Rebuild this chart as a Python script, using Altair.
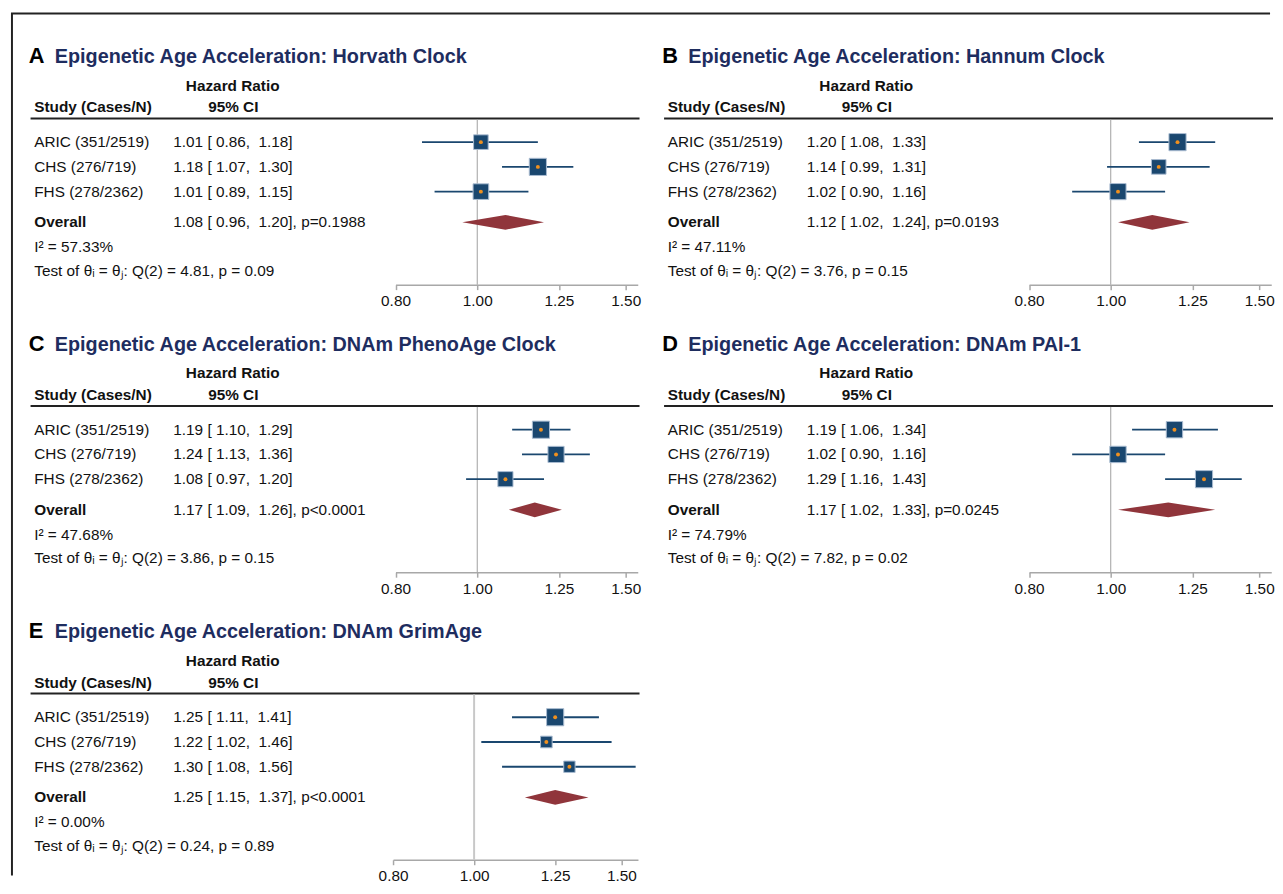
import altair as alt
import pandas as pd
import numpy as np

FONT = "Liberation Sans, Arial, Helvetica, sans-serif"
NAVY_TITLE = "#1e2d5f"
BOX = "#1a476f"
DOT = "#f0901e"
DIAMOND = "#90353b"

studies = ["ARIC (351/2519)", "CHS (276/719)", "FHS (278/2362)"]
letters = ["A", "B", "C", "D", "E"]
titles = [
    "Epigenetic Age Acceleration: Horvath Clock",
    "Epigenetic Age Acceleration: Hannum Clock",
    "Epigenetic Age Acceleration: DNAm PhenoAge Clock",
    "Epigenetic Age Acceleration: DNAm PAI-1",
    "Epigenetic Age Acceleration: DNAm GrimAge",
]
hr = [[1.01, 1.18, 1.01], [1.20, 1.14, 1.02], [1.19, 1.24, 1.08], [1.19, 1.02, 1.29], [1.25, 1.22, 1.30]]
lo = [[0.86, 1.07, 0.89], [1.08, 0.99, 0.90], [1.10, 1.13, 0.97], [1.06, 0.90, 1.16], [1.11, 1.02, 1.08]]
hi = [[1.18, 1.30, 1.15], [1.33, 1.31, 1.16], [1.29, 1.36, 1.20], [1.34, 1.16, 1.43], [1.41, 1.46, 1.56]]
weights = [[28.4, 39.1, 32.5], [38.3, 27.8, 33.9], [37.5, 33.2, 29.2], [32.3, 32.3, 35.5], [52.7, 24.2, 23.1]]
overall_hr = [1.08, 1.12, 1.17, 1.17, 1.25]
overall_lo = [0.96, 1.02, 1.09, 1.02, 1.15]
overall_hi = [1.20, 1.24, 1.26, 1.33, 1.37]
overall_p = ["p=0.1988", "p=0.0193", "p<0.0001", "p=0.0245", "p<0.0001"]
i2 = [57.33, 47.11, 47.68, 74.79, 0.00]
q_stat = [4.81, 3.76, 3.86, 7.82, 0.24]
q_p = [0.09, 0.15, 0.15, 0.02, 0.89]
tick_values = [0.80, 1.00, 1.25, 1.50]

W, H = 624, 260
FS = 15.5
NB = "\u00a0"
OVERALL_ROW = 4.24
DIAMOND_HALF = 0.3


def ci_text(h, l, u):
    return f"{h:.2f} [ {l:.2f},{NB} {u:.2f}]"


def panel(i):
    if i < 4:
        x0, k, dmax = 378.5, 370.0, 1.55
    else:
        x0, k, dmax = 376.0, 367.0, 1.57
    xs = alt.Scale(type="log", domain=[0.8, dmax],
                   range=[x0, x0 + k * float(np.log(dmax / 0.8))],
                   clamp=True, nice=False)
    ys = alt.Scale(domain=[1, 3], range=[116, 166], zero=False, nice=False)
    ax = alt.Axis(values=tick_values, format=".2f", title=None, grid=False,
                  labelFontSize=FS, labelFont=FONT, labelColor="#111",
                  domainColor="#a8a8a8", tickColor="#a8a8a8", domainWidth=1.5,
                  tickWidth=1.5, tickSize=5, labelPadding=4, labelFlush=False)
    Y = alt.Y("row:Q", scale=ys, axis=None)

    sdf = pd.DataFrame({
        "row": [1, 2, 3],
        "study": studies,
        "hr": hr[i], "lo": lo[i], "hi": hi[i], "w": weights[i],
        "label": [ci_text(h, l, u) for h, l, u in zip(hr[i], lo[i], hi[i])],
    })
    odf = pd.DataFrame({
        "row": [OVERALL_ROW],
        "name": ["Overall"],
        "label": [ci_text(overall_hr[i], overall_lo[i], overall_hi[i]) + ", " + overall_p[i]],
    })
    ddf = pd.DataFrame({
        "x": [overall_lo[i], overall_hr[i], overall_hi[i]],
        "row": [OVERALL_ROW, OVERALL_ROW - DIAMOND_HALF, OVERALL_ROW],
        "row2": [OVERALL_ROW, OVERALL_ROW + DIAMOND_HALF, OVERALL_ROW],
    })
    info = pd.DataFrame({
        "letter": [letters[i]],
        "title": [titles[i]],
        "hrh": ["Hazard Ratio"],
        "cih": ["95% CI"],
        "sth": ["Study (Cases/N)"],
        "i2": [f"I² = {i2[i]:.2f}%"],
        "test": [f"Test of θᵢ = θⱼ: Q(2) = {q_stat[i]:.2f}, p = {q_p[i]:.2f}"],
        "ref": [1.0],
    })

    base_info = alt.Chart(info)
    layers = []
    if i == 0:
        layers.append(base_info.mark_rule(color="#222", strokeWidth=2).encode(
            x=alt.value(-10), x2=alt.value(1262), y=alt.value(-14)))
        layers.append(base_info.mark_rule(color="#222", strokeWidth=2).encode(
            x=alt.value(-9), y=alt.value(-14), y2=alt.value(857)))

    layers += [
        base_info.mark_text(align="left", baseline="alphabetic", font=FONT, fontSize=22,
                            fontWeight="bold", color="#000").encode(
            x=alt.value(8), y=alt.value(36), text="letter:N"),
        base_info.mark_text(align="left", baseline="alphabetic", font=FONT, fontSize=20,
                            fontWeight="bold", color=NAVY_TITLE).encode(
            x=alt.value(34.3), y=alt.value(36), text="title:N"),
        base_info.mark_text(align="center", baseline="middle", font=FONT, fontSize=FS,
                            fontWeight="bold", color="#111").encode(
            x=alt.value(214), y=alt.value(59), text="hrh:N"),
        base_info.mark_text(align="center", baseline="middle", font=FONT, fontSize=FS,
                            fontWeight="bold", color="#111").encode(
            x=alt.value(214.6), y=alt.value(81), text="cih:N"),
        base_info.mark_text(align="left", baseline="middle", font=FONT, fontSize=FS,
                            fontWeight="bold", color="#111").encode(
            x=alt.value(13.5), y=alt.value(81), text="sth:N"),
        base_info.mark_rule(color="#222", strokeWidth=2).encode(
            x=alt.value(9.8), x2=alt.value(625), y=alt.value(92)),
        base_info.mark_rule(color="#a0a0a0" if i < 4 else "#c8c8c8",
                            strokeWidth=1 if i < 4 else 2).encode(
            x=alt.X("ref:Q", scale=xs, axis=ax), y=alt.value(93), y2=alt.value(260)),
        alt.Chart(sdf).mark_rule(color=BOX, strokeWidth=1.8).encode(
            x=alt.X("lo:Q", scale=xs, axis=ax), x2="hi:Q", y=Y),
        alt.Chart(sdf).mark_square(color=BOX, opacity=1, filled=True,
                                   stroke="#a9bbd0", strokeWidth=1).encode(
            x=alt.X("hr:Q", scale=xs, axis=ax), y=Y,
            size=alt.Size("w:Q", scale=alt.Scale(domain=[0, max(weights[i])], range=[0, 300]),
                          legend=None)),
        alt.Chart(sdf).mark_circle(color=DOT, size=16, opacity=1).encode(
            x=alt.X("hr:Q", scale=xs, axis=ax), y=Y),
        alt.Chart(ddf).mark_area(color=DIAMOND, opacity=1).encode(
            x=alt.X("x:Q", scale=xs, axis=ax), y=Y, y2="row2:Q"),
        alt.Chart(sdf).mark_text(align="left", baseline="middle", font=FONT, fontSize=FS,
                                 color="#111").encode(
            x=alt.value(13.5), y=Y, text="study:N"),
        alt.Chart(sdf).mark_text(align="left", baseline="middle", font=FONT, fontSize=FS,
                                 color="#111").encode(
            x=alt.value(154), y=Y, text="label:N"),
        alt.Chart(odf).mark_text(align="left", baseline="middle", font=FONT, fontSize=FS,
                                 fontWeight="bold", color="#111").encode(
            x=alt.value(13.5), y=Y, text="name:N"),
        alt.Chart(odf).mark_text(align="left", baseline="middle", font=FONT, fontSize=FS,
                                 color="#111").encode(
            x=alt.value(154), y=Y, text="label:N"),
        base_info.mark_text(align="left", baseline="middle", font=FONT, fontSize=FS,
                            color="#111").encode(
            x=alt.value(13.5), y=alt.value(222), text="i2:N"),
        base_info.mark_text(align="left", baseline="middle", font=FONT, fontSize=FS,
                            color="#111").encode(
            x=alt.value(13.5), y=alt.value(246), text="test:N"),
    ]
    return alt.layer(*layers).properties(width=W, height=H)


p = [panel(i) for i in range(5)]
chart = alt.concat(
    *p, columns=2, spacing={"row": 30.5, "column": 16}, bounds="flush"
).resolve_scale(
    x="independent", y="independent", size="independent"
).properties(
    padding={"left": 2, "top": 0, "right": 0, "bottom": 0},
    background="white",
).configure_view(stroke=None)

chart.save("out.html", embed_options={"renderer": "svg", "actions": False})
